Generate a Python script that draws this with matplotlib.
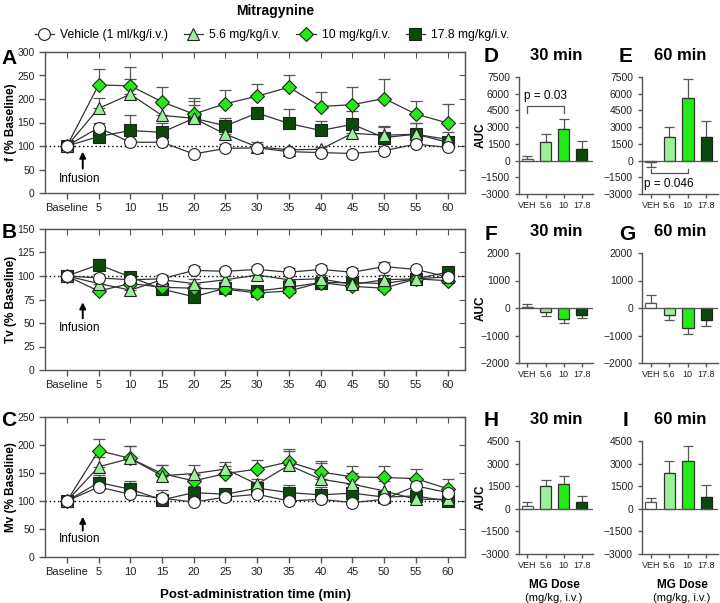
import numpy as np
import matplotlib
matplotlib.use("Agg")
import matplotlib.pyplot as plt

plt.rcParams['font.family'] = ['Liberation Sans', 'DejaVu Sans']

# time axis
time_labels = ['Baseline', '5', '10', '15', '20', '25', '30', '35', '40', '45', '50', '55', '60']

# panel A: f (% baseline), mean and upper SEM
veh_f = [100, 139, 108, 108, 83, 95, 96, 88, 86, 84, 90, 104, 97]
veh_f_err = [0, 11, 5, 5, 3, 9, 12, 4, 3, 3, 4, 5, 4]
f56 = [100, 180, 210, 165, 159, 125, 98, 92, 93, 127, 123, 125, 114]
f56_err = [0, 22, 33, 24, 36, 15, 6, 4, 4, 14, 18, 24, 15]
f10 = [100, 230, 228, 194, 168, 190, 206, 225, 184, 188, 201, 168, 149]
f10_err = [0, 33, 41, 31, 34, 30, 26, 27, 30, 37, 42, 27, 41]
f178 = [100, 120, 133, 129, 159, 143, 170, 148, 133, 146, 118, 125, 108]
f178_err = [0, 8, 33, 20, 29, 16, 12, 30, 21, 29, 25, 25, 12]

# panel B: Tv (% baseline)
veh_tv = [100, 98, 96, 97, 106, 105, 107, 104, 107, 104, 110, 107, 99]
veh_tv_err = [0, 4, 3, 4, 5, 3, 4, 4, 5, 4, 5, 3, 3]
tv56 = [100, 92, 85, 96, 92, 96, 101, 96, 97, 91, 96, 97, 99]
tv56_err = [0, 4, 4, 5, 5, 4, 4, 4, 4, 4, 5, 4, 4]
tv10 = [100, 84, 92, 88, 87, 86, 82, 84, 93, 89, 87, 97, 95]
tv10_err = [0, 3, 4, 4, 4, 3, 3, 3, 4, 3, 3, 3, 3]
tv178 = [100, 112, 99, 86, 78, 87, 84, 88, 93, 93, 92, 97, 104]
tv178_err = [0, 6, 4, 5, 4, 4, 3, 4, 3, 3, 4, 3, 3]

# panel C: Mv (% baseline)
veh_mv = [100, 125, 112, 105, 98, 107, 112, 100, 103, 97, 103, 127, 115]
veh_mv_err = [0, 5, 4, 3, 3, 4, 5, 3, 4, 3, 4, 5, 5]
mv56 = [100, 161, 176, 145, 149, 157, 130, 164, 139, 130, 118, 103, 103]
mv56_err = [0, 18, 22, 20, 16, 12, 9, 25, 29, 20, 17, 5, 4]
mv10 = [100, 190, 176, 149, 136, 149, 157, 170, 152, 143, 142, 140, 122]
mv10_err = [0, 20, 22, 16, 10, 14, 17, 22, 20, 19, 20, 18, 18]
mv178 = [100, 133, 121, 102, 115, 112, 123, 115, 111, 114, 107, 109, 100]
mv178_err = [0, 13, 15, 17, 12, 10, 8, 13, 14, 8, 8, 6, 4]

# AUC bars
dose_labels = ['VEH', '5.6', '10', '17.8']
auc_d = [150, 1700, 2870, 1060]
auc_d_err = [250, 700, 860, 700]
auc_e = [-100, 2080, 5600, 2100]
auc_e_err = [440, 930, 1720, 1420]
auc_f = [50, -160, -410, -240]
auc_f_err = [100, 130, 130, 120]
auc_g = [200, -250, -740, -430]
auc_g_err = [260, 180, 220, 210]
auc_h = [210, 1520, 1670, 420]
auc_h_err = [220, 390, 520, 430]
auc_i = [420, 2400, 3150, 760]
auc_i_err = [320, 800, 1000, 820]

C_VEH = 'white'
C_56 = '#9cf09c'
C_10 = '#22ea14'
C_178 = '#0b4a0b'
GRAY = '#555555'

W, H = 720, 603
fig = plt.figure(figsize=(W / 100, H / 100), dpi=100)


def px_axes(x0, y0, x1, y1):
    return fig.add_axes([x0 / W, 1 - y1 / H, (x1 - x0) / W, (y1 - y0) / H])


def px_text(x, y, s, **kw):
    fig.text(x / W, 1 - y / H, s, ha='center', va='center', **kw)


def style_spines(ax, box=True):
    for s in ax.spines.values():
        s.set_color(GRAY)
        s.set_linewidth(1.0)
    if not box:
        ax.spines['top'].set_visible(False)
        ax.spines['right'].set_visible(False)
    ax.tick_params(colors=GRAY, labelcolor='#222222', width=1.0, length=4)


series_style = [
    # (marker, face, size)
    ('s', C_178, 8),
    ('D', C_10, 7),
    ('^', C_56, 9),
    ('o', C_VEH, 8.5),
]


def line_panel(ax, data, ymax, ystep, ylabel, arrow):
    x = np.arange(len(time_labels))
    for (mean, err), (mk, fc, ms) in zip(data, series_style):
        ax.errorbar(x, mean, yerr=[np.zeros(len(err)), err], fmt='none',
                    ecolor=GRAY, elinewidth=0.9, capsize=4, capthick=0.9, zorder=2)
        ax.plot(x, mean, color='#333333', lw=0.9, marker=mk, ms=ms,
                mfc=fc, mec='#222222', mew=0.8, zorder=3)
    ax.axhline(100, color='black', ls=(0, (1, 2)), lw=1.0, zorder=1)
    ax.set_xlim(-0.69, 12.55)
    ax.set_ylim(0, ymax)
    ax.set_xticks(x)
    ax.set_xticklabels(time_labels, fontsize=8)
    yt = np.arange(0, ymax + 1, ystep)
    ax.set_yticks(yt)
    ax.tick_params(axis='y', labelsize=7.5)
    style_spines(ax)
    top = ax.secondary_xaxis('top')
    top.set_xticks(x)
    top.tick_params(direction='in', length=4, colors=GRAY, labeltop=False)
    right = ax.secondary_yaxis('right')
    right.set_yticks(yt)
    right.tick_params(direction='in', length=4, colors=GRAY, labelright=False)
    for sec in (top, right):
        for s in sec.spines.values():
            s.set_color(GRAY)
    ax.set_ylabel(ylabel, fontsize=8.5, fontweight='bold')
    ax.yaxis.set_label_coords(-0.066, 0.5)
    tip, tail, txt = arrow
    ax.annotate('', xy=(0.5, tip), xytext=(0.5, tail),
                arrowprops=dict(arrowstyle='-|>', color='black', lw=1.4,
                                mutation_scale=9, shrinkA=0, shrinkB=0))
    ax.text(0.4, txt, 'Infusion', fontsize=8.5, ha='center', va='center')


def bar_panel(ax, vals, errs, ylim, ystep, title, ylabel=True):
    x = np.arange(len(dose_labels))
    colors = [C_VEH, C_56, C_10, C_178]
    edges = [GRAY, '#333333', '#333333', '#222222']
    ax.bar(x, vals, width=0.62, color=colors, edgecolor=edges, lw=0.9, zorder=2)
    lo = [e if v < 0 else 0 for v, e in zip(vals, errs)]
    hi = [e if v >= 0 else 0 for v, e in zip(vals, errs)]
    ax.errorbar(x, vals, yerr=[lo, hi], fmt='none', ecolor=GRAY,
                elinewidth=0.9, capsize=3.5, capthick=0.9, zorder=1)
    ax.axhline(0, color=GRAY, lw=0.9, zorder=3)
    ax.set_xlim(-0.47, 3.63)
    ax.set_ylim(*ylim)
    ax.set_yticks(np.arange(ylim[0], ylim[1] + 1, ystep))
    ax.set_xticks(x)
    ax.set_xticklabels(dose_labels, fontsize=6.5)
    ax.tick_params(axis='y', labelsize=7.5)
    style_spines(ax, box=False)
    ax.tick_params(length=3)
    ax.tick_params(axis='x', pad=2)
    if ylabel:
        ax.set_ylabel('AUC', fontsize=8.5, fontweight='bold')
        ax.yaxis.set_label_coords(-0.43, 0.5)
    ax.set_title(title, fontsize=12, fontweight='bold', pad=12)


axA = px_axes(45, 52, 465, 193)
line_panel(axA, [(f178, f178_err), (f10, f10_err), (f56, f56_err), (veh_f, veh_f_err)],
           300, 50, 'f (% Baseline)', (88, 52, 30))
axB = px_axes(45, 229, 465, 370)
line_panel(axB, [(tv178, tv178_err), (tv10, tv10_err), (tv56, tv56_err), (veh_tv, veh_tv_err)],
           150, 25, 'Tv (% Baseline)', (72, 55, 45))
axC = px_axes(45, 417, 465, 557)
line_panel(axC, [(mv178, mv178_err), (mv10, mv10_err), (mv56, mv56_err), (veh_mv, veh_mv_err)],
           250, 50, 'Mv (% Baseline)', (72, 47, 32))
axC.set_xlabel('Post-administration time (min)', fontsize=9.5, fontweight='bold', labelpad=8)

axD = px_axes(519, 77, 593, 194)
bar_panel(axD, auc_d, auc_d_err, (-3000, 7500), 1500, '30 min')
axD.plot([0, 0, 2, 2], [4300, 4900, 4900, 4300], color=GRAY, lw=0.9)
axD.text(1, 5750, 'p = 0.03', fontsize=8.5, ha='center', va='center')
axE = px_axes(642, 77, 718, 194)
bar_panel(axE, auc_e, auc_e_err, (-3000, 7500), 1500, '60 min', ylabel=False)
axE.plot([0, 0, 2, 2], [-800, -1150, -1150, -800], color=GRAY, lw=0.9)
axE.text(1, -2100, 'p = 0.046', fontsize=8.5, ha='center', va='center')

axF = px_axes(519, 253, 593, 363)
bar_panel(axF, auc_f, auc_f_err, (-2000, 2000), 1000, '30 min')
axG = px_axes(642, 253, 718, 363)
bar_panel(axG, auc_g, auc_g_err, (-2000, 2000), 1000, '60 min', ylabel=False)

axH = px_axes(519, 441, 593, 554)
bar_panel(axH, auc_h, auc_h_err, (-3000, 4500), 1500, '30 min')
axI = px_axes(642, 441, 718, 554)
bar_panel(axI, auc_i, auc_i_err, (-3000, 4500), 1500, '60 min', ylabel=False)
for cx in (554, 682):
    px_text(cx, 585, 'MG Dose', fontsize=8.5, fontweight='bold')
    px_text(cx, 598, '(mg/kg, i.v.)', fontsize=8)

# panel letters
for letter, (lx, ly) in {'A': (9, 58), 'B': (9, 233), 'C': (9, 420),
                         'D': (491, 57), 'E': (626, 57), 'F': (491, 234),
                         'G': (627, 234), 'H': (491, 420), 'I': (625, 420)}.items():
    px_text(lx, ly, letter, fontsize=15, fontweight='bold')

# legend
names = ['Vehicle (1 ml/kg/i.v.)', '5.6 mg/kg/i.v.', '10 mg/kg/i.v.', '17.8 mg/kg/i.v.']
leg_style = [series_style[3], series_style[2], series_style[1], series_style[0]]
handles = [plt.Line2D([], [], color='#333333', lw=0.9, marker=mk, ms=ms,
                      mfc=fc, mec='#222222', mew=0.8) for mk, fc, ms in leg_style]
fig.legend(handles, names, loc='center', bbox_to_anchor=(272 / W, 1 - 35 / H),
           ncol=4, frameon=False, fontsize=8.7, handlelength=1.6, columnspacing=1.3,
           handletextpad=0.5)
px_text(275, 11, 'Mitragynine', fontsize=10, fontweight='bold')

fig.savefig('out.png', dpi=100)
